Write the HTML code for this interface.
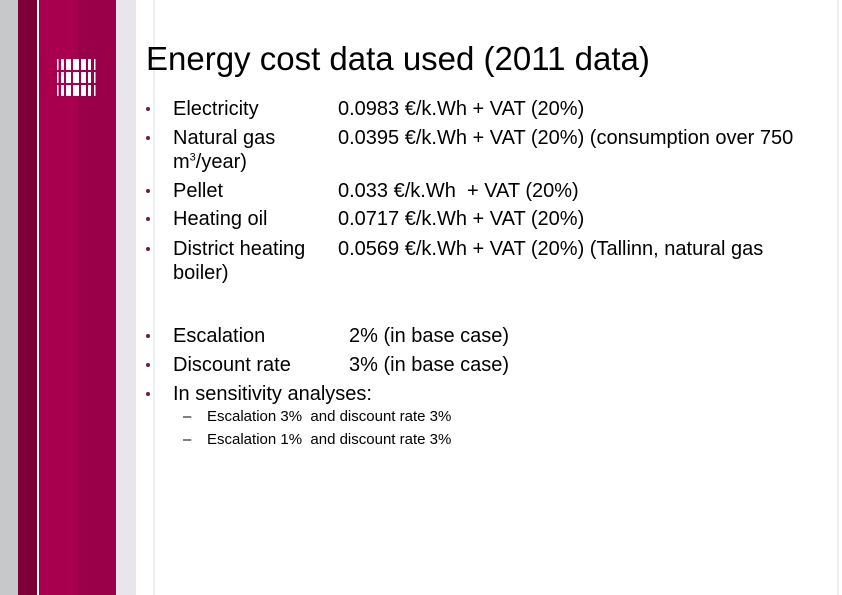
<!DOCTYPE html>
<html><head><meta charset="utf-8"><style>
html,body{margin:0;padding:0}
body{width:842px;height:595px;position:relative;overflow:hidden;background:#fff;font-family:"Liberation Sans",sans-serif;color:#000}
.b{position:absolute;top:0;height:595px}
.t{position:absolute;white-space:nowrap;font-size:20px;line-height:22px}
.dot{position:absolute;width:4px;height:4px;border-radius:50%;background:#6a1c44}
.s{position:absolute;white-space:nowrap;font-size:15px;line-height:16px}
</style></head><body>
<div class="b" style="left:0;width:18px;background:#c7c8ca"></div>
<div class="b" style="left:18px;width:19px;background:#7e0038"></div>
<div class="b" style="left:39px;width:39px;background:#a8004f"></div>
<div class="b" style="left:78px;width:38px;background:#9a0049"></div>
<div class="b" style="left:116px;width:20px;background:#e8e6ea"></div>
<div class="b" style="left:153px;width:2px;background:#f0eff1"></div>
<div class="b" style="left:837px;width:2px;background:#f0eff1"></div>
<svg style="position:absolute;left:56px;top:59px" width="42" height="38">
<g fill="#fff">
<rect x="1" y="0" width="1.5" height="11"/><rect x="5" y="0" width="3" height="11"/><rect x="10" y="0" width="5" height="11"/><rect x="17" y="0" width="6" height="11"/><rect x="25" y="0" width="5" height="11"/><rect x="32" y="0" width="3" height="11"/><rect x="38" y="0" width="1.5" height="11"/>
<rect x="1" y="13" width="1.5" height="11"/><rect x="5" y="13" width="3" height="11"/><rect x="10" y="13" width="5" height="11"/><rect x="17" y="13" width="6" height="11"/><rect x="25" y="13" width="5" height="11"/><rect x="32" y="13" width="3" height="11"/><rect x="38" y="13" width="1.5" height="11"/>
<rect x="1" y="26" width="1.5" height="11"/><rect x="5" y="26" width="3" height="11"/><rect x="10" y="26" width="5" height="11"/><rect x="17" y="26" width="6" height="11"/><rect x="25" y="26" width="5" height="11"/><rect x="32" y="26" width="3" height="11"/><rect x="38" y="26" width="1.5" height="11"/>
</g></svg>
<div class="t" style="left:146px;top:41px;font-size:33px;line-height:36px">Energy cost data used (2011 data)</div>

<div class="dot" style="left:146px;top:107px"></div>
<div class="t" style="left:173px;top:98px">Electricity</div>
<div class="t" style="left:338px;top:98px">0.0983 €/k.Wh + VAT (20%)</div>
<div class="dot" style="left:146px;top:136px"></div>
<div class="t" style="left:173px;top:127px">Natural gas</div>
<div class="t" style="left:338px;top:127px">0.0395 €/k.Wh + VAT (20%) (consumption over 750</div>
<div class="t" style="left:173px;top:151px">m<sup style="font-size:11px;line-height:0">3</sup>/year)</div>
<div class="dot" style="left:146px;top:189px"></div>
<div class="t" style="left:173px;top:180px">Pellet</div>
<div class="t" style="left:338px;top:180px">0.033 €/k.Wh&nbsp; + VAT (20%)</div>
<div class="dot" style="left:146px;top:217px"></div>
<div class="t" style="left:173px;top:208px">Heating oil</div>
<div class="t" style="left:338px;top:208px">0.0717 €/k.Wh + VAT (20%)</div>
<div class="dot" style="left:146px;top:247px"></div>
<div class="t" style="left:173px;top:238px">District heating</div>
<div class="t" style="left:338px;top:238px">0.0569 €/k.Wh + VAT (20%) (Tallinn, natural gas</div>
<div class="t" style="left:173px;top:262px">boiler)</div>

<div class="dot" style="left:146px;top:334px"></div>
<div class="t" style="left:173px;top:325px">Escalation</div>
<div class="t" style="left:349px;top:325px">2% (in base case)</div>
<div class="dot" style="left:146px;top:363px"></div>
<div class="t" style="left:173px;top:354px">Discount rate</div>
<div class="t" style="left:349px;top:354px">3% (in base case)</div>
<div class="dot" style="left:146px;top:392px"></div>
<div class="t" style="left:173px;top:383px">In sensitivity analyses:</div>
<div class="s" style="left:183px;top:409px">–</div>
<div class="s" style="left:207px;top:409px">Escalation 3%&nbsp; and discount rate 3%</div>
<div class="s" style="left:183px;top:432px">–</div>
<div class="s" style="left:207px;top:432px">Escalation 1%&nbsp; and discount rate 3%</div>
</body></html>
